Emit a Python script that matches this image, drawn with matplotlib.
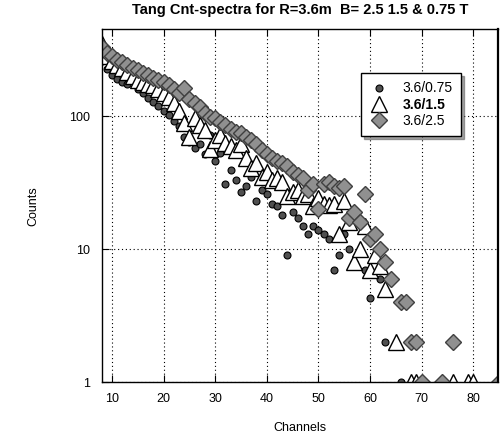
import matplotlib
matplotlib.use('Agg')
import matplotlib.pyplot as plt
from matplotlib.ticker import FixedLocator, NullLocator, FixedFormatter

plt.rcParams['font.family'] = ['Liberation Sans', 'DejaVu Sans']

# 3.6/0.75 (circles)
ch_075 = [8, 9, 10, 11, 12, 13, 14, 15, 16, 17, 18, 19, 20, 21, 22, 23, 24, 25, 26, 27,
          28, 29, 30, 31, 32, 33, 34, 35, 36, 37, 38, 39, 40, 41, 42, 43, 44, 45, 46, 47,
          48, 49, 50, 51, 52, 53, 54, 55, 56, 57, 59, 60, 62, 63, 64, 66]
cnt_075 = [260, 225, 205, 190, 180, 175, 185, 160, 150, 136, 128, 118, 110, 102, 92, 84, 70, 64, 58, 62,
           52, 72, 46, 53, 31, 39, 33, 27, 30, 35, 23, 28, 26, 22, 21, 18, 9, 19, 17, 15,
           13, 15, 14, 13, 12, 7, 9, 13, 10, 8, 7, 4.3, 6, 2, 6, 1]

# 3.6/1.5 (triangles)
ch_15 = [8, 9, 10, 11, 12, 13, 14, 15, 16, 17, 18, 19, 20, 21, 22, 23, 24, 25, 26, 27,
         28, 29, 30, 31, 32, 33, 34, 35, 36, 37, 38, 39, 40, 41, 42, 43, 44, 45, 46, 47,
         48, 49, 50, 51, 52, 53, 54, 55, 56, 57, 58, 59, 60, 61, 62, 63, 65, 68, 69, 76, 79, 80]
cnt_15 = [350, 285, 260, 240, 228, 215, 200, 185, 180, 175, 170, 160, 150, 138, 125, 110, 88, 70, 96, 86,
          78, 57, 66, 72, 63, 60, 56, 62, 48, 41, 44, 35, 38, 33, 34, 32, 25, 27, 28, 25,
          26, 21, 24, 22, 21.5, 22, 13, 23, 16, 8, 10, 15, 7, 9, 7.5, 5, 2, 1, 1, 1, 1, 1]

# 3.6/2.5 (diamonds)
ch_25 = [8, 9, 10, 11, 12, 13, 14, 15, 16, 17, 18, 19, 20, 21, 22, 23, 24, 25, 26, 27,
         28, 29, 30, 31, 32, 33, 34, 35, 36, 37, 38, 39, 40, 41, 42, 43, 44, 45, 46, 47,
         48, 49, 50, 51, 52, 53, 54, 55, 56, 57, 58, 59, 60, 61, 62, 63, 64, 66, 67, 68,
         69, 70, 74, 76, 85]
cnt_25 = [330, 300, 285, 265, 255, 240, 230, 222, 210, 205, 192, 185, 180, 170, 160, 148, 162, 135, 125, 117,
          106, 98, 96, 90, 86, 80, 76, 74, 70, 66, 62, 56, 52, 48, 46, 44, 42, 38, 36, 34,
          28, 31, 20, 31, 32, 30, 29, 30, 17, 19, 16, 26, 12, 13, 10, 8, 6, 4, 4, 2,
          2, 1, 1, 2, 1]

x_ticks = [10, 20, 30, 40, 50, 60, 70, 80]
y_ticks = [1, 10, 100]
y_labels = ['1', '10', '100']

fig = plt.figure(figsize=(5.03, 4.48), dpi=100)
ax = fig.add_axes([0.202, 0.147, 0.788, 0.788])

ax.plot(ch_075, cnt_075, 'o', ms=5, mfc='#505050', mec='black', mew=0.8, label='3.6/0.75')
ax.plot(ch_15, cnt_15, '^', ms=11, mfc='white', mec='black', mew=1.0, label='3.6/1.5')
ax.plot(ch_25, cnt_25, 'D', ms=8, mfc='#909090', mec='#404040', mew=1.0, label='3.6/2.5')

ax.set_yscale('log')
ax.set_xlim(8, 84.8)
ax.set_ylim(1, 450)

ax.xaxis.set_major_locator(FixedLocator(x_ticks))
ax.yaxis.set_major_locator(FixedLocator(y_ticks))
ax.yaxis.set_major_formatter(FixedFormatter(y_labels))
ax.yaxis.set_minor_locator(NullLocator())

ax.grid(True, which='major', color='black', linestyle=(0, (1, 2.5)), linewidth=0.8)
ax.tick_params(direction='in', length=5, top=True, right=False, labelsize=9, pad=8)
for s in ax.spines.values():
    s.set_linewidth(1.0)
ax.spines['right'].set_linewidth(1.6)

ax.set_title('Tang Cnt-spectra for R=3.6m  B= 2.5 1.5 & 0.75 T', fontsize=10.5,
             fontweight='bold', pad=11)
ax.set_xlabel('Channels', fontsize=9, labelpad=12)
ax.set_ylabel('Counts', fontsize=9, labelpad=22)

leg = ax.legend(loc='upper left', bbox_to_anchor=(0.637, 0.895), frameon=True,
                fancybox=False, shadow=True, edgecolor='black', fontsize=10,
                handletextpad=1.0, borderpad=0.6, labelspacing=0.15, handlelength=1.4)
leg.get_frame().set_linewidth(1.0)
leg.get_texts()[1].set_fontweight('bold')

fig.savefig('out.png', dpi=100)
